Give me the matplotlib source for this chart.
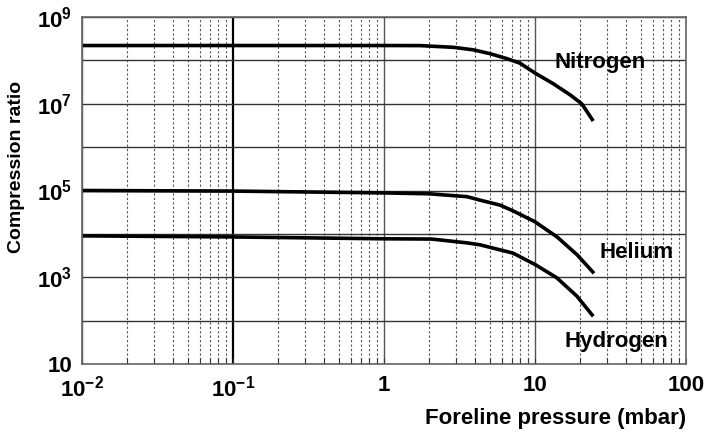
#!/usr/bin/env python3

import numpy as np
import matplotlib
matplotlib.use( 'Agg' )
import matplotlib.pyplot as plt
from matplotlib.ticker import FixedLocator, FixedFormatter, NullFormatter

#### ========== Data ==========

# Foreline pressure (mbar) and compression ratio for each gas
pN2 = [ 0.01, 0.1, 1.0, 1.73, 2.88, 3.9, 5.03, 6.5, 7.96, 10.0, 13.2,
        17.1, 20.4, 24.3 ]
kN2 = [ 2.2e8, 2.2e8, 2.2e8, 2.19e8, 2.0e8, 1.75e8, 1.43e8, 1.1e8, 8.6e7,
        5.1e7, 2.9e7, 1.6e7, 1.0e7, 4.0e6 ]

pHe = [ 0.01, 0.1, 1.0, 2.0, 3.55, 4.32, 5.87, 7.15, 10.0, 14.0, 19.0,
        24.6 ]
kHe = [ 1.0e5, 9.7e4, 8.8e4, 8.4e4, 7.2e4, 6.0e4, 4.6e4, 3.4e4, 1.9e4,
        8.5e3, 3.3e3, 1.23e3 ]

pH2 = [ 0.01, 0.1, 1.0, 2.07, 3.55, 4.32, 7.15, 10.0, 13.9, 18.9, 24.3 ]
kH2 = [ 9.0e3, 8.5e3, 7.7e3, 7.6e3, 6.2e3, 5.6e3, 3.6e3, 1.97e3,
        980.0, 370.0, 126.0 ]

xTicks      = [ 1.0e-2, 1.0e-1, 1.0, 1.0e1, 1.0e2 ]
xTickLabels = [ r'$10^{-2}$', r'$10^{-1}$', '1', '10', '100' ]
yTicks      = [ 1.0e1, 1.0e2, 1.0e3, 1.0e4, 1.0e5, 1.0e6, 1.0e7, 1.0e8, 1.0e9 ]
yTickLabels = [ '10', '', r'$10^{3}$', '', r'$10^{5}$', '', r'$10^{7}$', '',
                r'$10^{9}$' ]

#### ====== End of data =======

plt.rcParams['font.family']      = [ 'Liberation Sans', 'DejaVu Sans' ]
plt.rcParams['font.weight']      = 'bold'
plt.rcParams['mathtext.fontset'] = 'custom'
plt.rcParams['mathtext.rm']      = 'Liberation Sans:bold'
plt.rcParams['mathtext.it']      = 'Liberation Sans:bold'
plt.rcParams['mathtext.bf']      = 'Liberation Sans:bold'

fig = plt.figure( figsize = ( 7.11, 4.32 ), dpi = 100 )
ax  = fig.add_axes( [ 82/711, 68/432, 604/711, 347/432 ] )

ax.set_xscale( 'log' )
ax.set_yscale( 'log' )
ax.set_xlim( 1.0e-2, 1.0e2 )
ax.set_ylim( 1.0e1, 1.0e9 )

# grid: solid decades, dotted minor verticals
ax.xaxis.set_major_locator( FixedLocator( xTicks ) )
ax.xaxis.set_major_formatter( FixedFormatter( xTickLabels ) )
xMinor = [ m * 10.0**e for e in range( -2, 2 ) for m in range( 2, 10 ) ]
ax.xaxis.set_minor_locator( FixedLocator( xMinor ) )
ax.xaxis.set_minor_formatter( NullFormatter() )
ax.yaxis.set_major_locator( FixedLocator( yTicks ) )
ax.yaxis.set_major_formatter( FixedFormatter( yTickLabels ) )
ax.yaxis.set_minor_locator( FixedLocator( [] ) )

ax.grid( which = 'major', axis = 'y', color = '#333333', lw = 1.0 )
ax.grid( which = 'major', axis = 'x', color = '#555555', lw = 1.0 )
ax.grid( which = 'minor', axis = 'x', color = '#555555', lw = 0.8,
         linestyle = ( 0, ( 2, 2 ) ) )
ax.get_xgridlines()[1].set_linewidth( 1.6 )
ax.get_xgridlines()[1].set_color( 'black' )
ax.set_axisbelow( True )

for s in ax.spines.values():
    s.set_color( '#666666' )
    s.set_linewidth( 1.2 )

ax.tick_params( axis = 'x', which = 'both', direction = 'in', length = 4,
                width = 0.8, color = '#333333', labelsize = 16, pad = 8 )
ax.tick_params( axis = 'y', which = 'both', length = 0, labelsize = 16,
                pad = 7 )

for p, k in ( ( pN2, kN2 ), ( pHe, kHe ), ( pH2, kH2 ) ):
    ax.plot( p, k, color = 'black', lw = 2.6, solid_capstyle = 'butt',
             solid_joinstyle = 'round' )

ax.text( 26.9, 8.7e7, 'Nitrogen', fontsize = 16, fontweight = 'bold',
         ha = 'center', va = 'center' )
ax.text( 46.7, 3.65e3, 'Helium', fontsize = 16, fontweight = 'bold',
         ha = 'center', va = 'center' )
ax.text( 34.4, 32.5, 'Hydrogen', fontsize = 16, fontweight = 'bold',
         ha = 'center', va = 'center' )

ax.set_xlabel( 'Foreline pressure (mbar)', fontsize = 16,
               fontweight = 'bold', loc = 'right', labelpad = 5 )
ax.set_ylabel( 'Compression ratio', fontsize = 14, fontweight = 'bold' )
ax.yaxis.set_label_coords( -0.094, 0.568 )

plt.savefig( 'out.png', dpi = 100 )
plt.close()
